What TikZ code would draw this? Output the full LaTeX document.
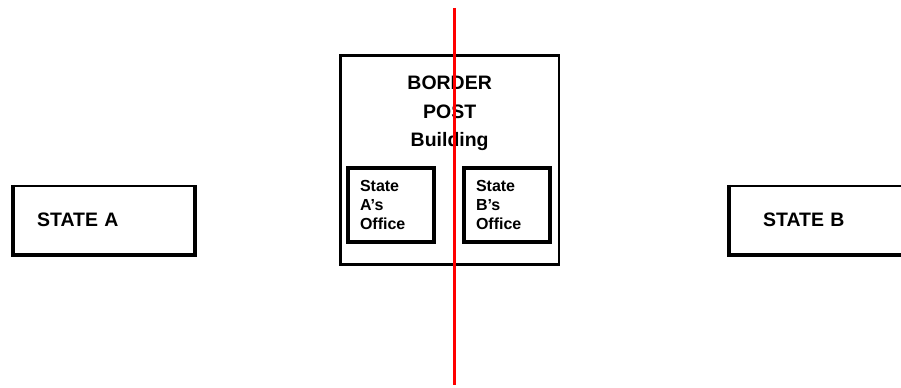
\documentclass[tikz,border=0pt]{standalone}
\usepackage{fontspec}
\setmainfont{Liberation Sans}
\usetikzlibrary{positioning}

\begin{document}
\begin{tikzpicture}[
    x=0.75pt, y=-0.75pt,
    statebox/.style={draw, line width=1.6pt, minimum height=51pt, inner ysep=0pt, align=left,
        font=\fontsize{14.6}{17}\selectfont\bfseries, anchor=north west},
    postbox/.style={draw, line width=2pt, minimum width=164pt, minimum height=157pt, anchor=north west},
    office/.style={draw, line width=3pt, minimum height=55.5pt, inner xsep=9pt, inner ysep=0pt,
        text width=46.5pt, align=left, font=\fontsize{12}{14.6}\selectfont\bfseries, anchor=north west},
    shadow/.style={line width=3pt},
    borderline/.style={draw=red, line width=2.25pt}
]
    \useasboundingbox (0,0) rectangle (901,388);

    % State A
    \node[statebox, inner xsep=17.25pt, text width=100.5pt] (stateA) at (13,185) {STATE A};
    \draw[shadow] (stateA.north west) |- (stateA.south east) -- (stateA.north east);

    % State B
    \node[statebox, inner xsep=24.75pt, text width=91.5pt] (stateB) at (729,185) {STATE B};
    \draw[shadow] (stateB.north west) |- (stateB.south east);

    % Border post building
    \node[postbox] (post) at (339,54) {};
    \node[font=\fontsize{14.6}{21.4}\selectfont\bfseries, align=center, inner sep=0pt,
        below=16.5pt of post.north] (postlabel) {BORDER\\POST\\Building};

    % Offices
    \node[office] (officeA) at (346,166) {State\\A's\\Office};
    \node[office] (officeB) at (462,166) {State\\B's\\Office};

    % Border line
    \coordinate (linetop) at (454,8);
    \coordinate (linebottom) at (454,385);
    \draw[borderline] (linetop) -- (linebottom);
\end{tikzpicture}
\end{document}
